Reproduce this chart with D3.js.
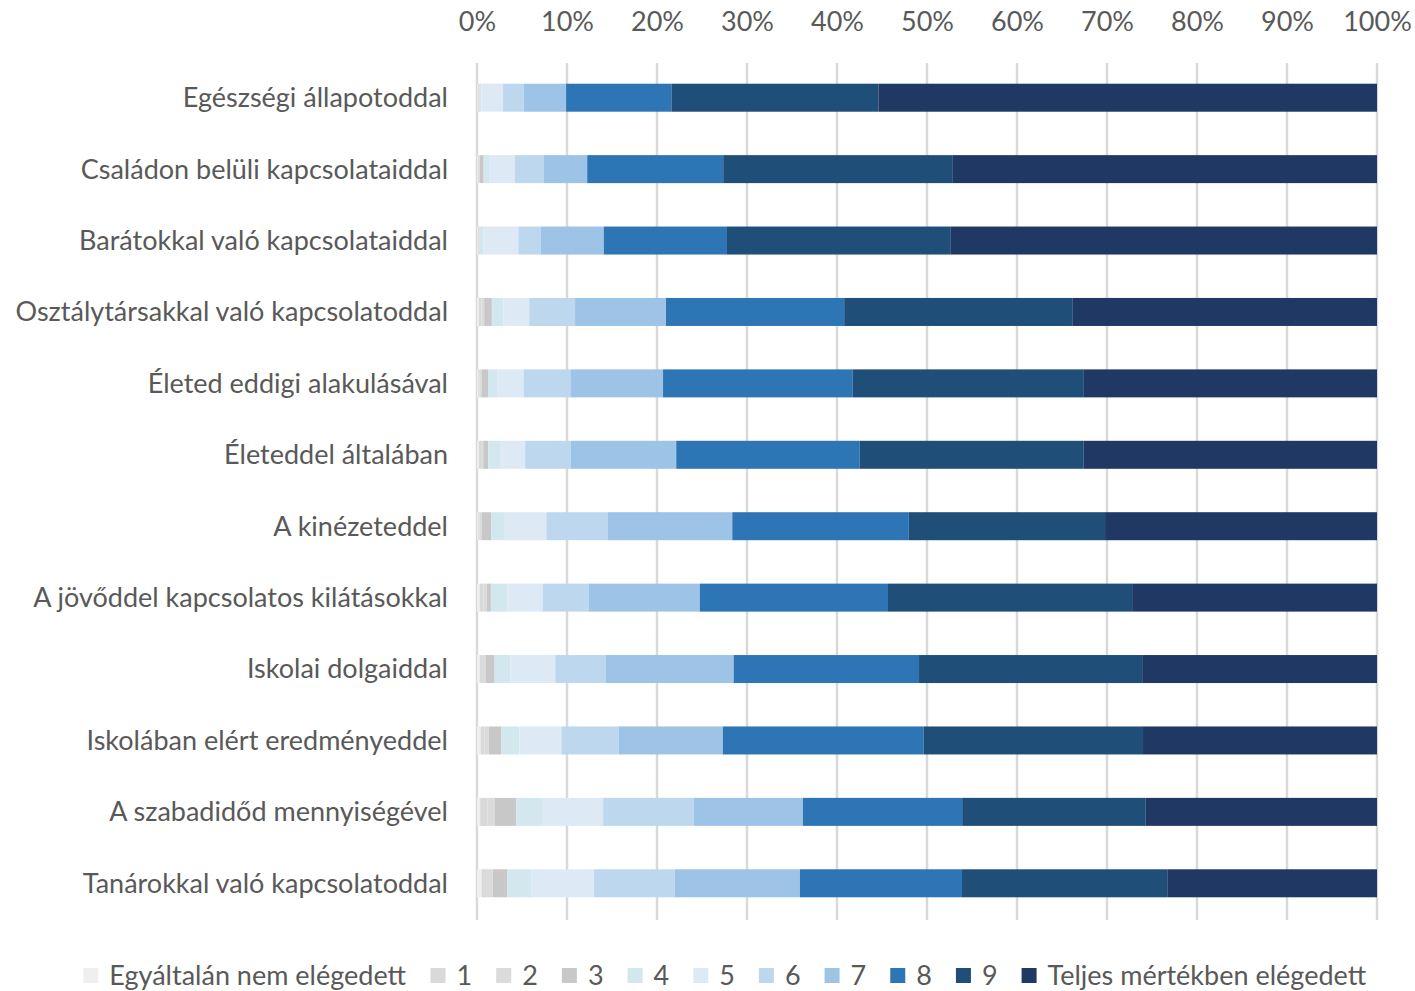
<!DOCTYPE html>
<html>
<head>
<meta charset="utf-8">
<script src="https://cdn.jsdelivr.net/npm/d3@7"></script>
<style>
  body { margin: 0; background: #fff; }
  text { font-family: Lato, "Liberation Sans", sans-serif; fill: #595959; }
</style>
</head>
<body>
<svg id="chart" width="1415" height="991"></svg>
<script>
// row labels, top to bottom
const categories = [
  "Egészségi állapotoddal",
  "Családon belüli kapcsolataiddal",
  "Barátokkal való kapcsolataiddal",
  "Osztálytársakkal való kapcsolatoddal",
  "Életed eddigi alakulásával",
  "Életeddel általában",
  "A kinézeteddel",
  "A jövőddel kapcsolatos kilátásokkal",
  "Iskolai dolgaiddal",
  "Iskolában elért eredményeddel",
  "A szabadidőd mennyiségével",
  "Tanárokkal való kapcsolatoddal"
];

const seriesNames = ["Egyáltalán nem elégedett", "1", "2", "3", "4", "5", "6", "7", "8", "9", "Teljes mértékben elégedett"];

// percentages per answer, one array per series (same order as categories)
const s0  = [0.1, 0.1, 0.1, 0.2, 0.15, 0.2, 0.15, 0.3, 0.3, 0.4, 0.35, 0.5];
const s1  = [0.1, 0.1, 0.1, 0.3, 0.15, 0.25, 0.15, 0.4, 0.35, 0.45, 0.8, 0.6];
const s2  = [0.1, 0.1, 0.1, 0.3, 0.2, 0.25, 0.2, 0.4, 0.35, 0.45, 0.8, 0.65];
const s3  = [0.0, 0.44, 0.0, 0.85, 0.73, 0.55, 1.1, 0.44, 0.96, 1.41, 2.41, 1.63];
const s4  = [0.2, 0.6, 0.4, 1.3, 1.0, 1.3, 1.4, 1.85, 1.74, 2.0, 2.96, 2.7];
const s5  = [2.4, 2.85, 3.9, 2.85, 2.96, 2.8, 4.7, 3.9, 5.0, 4.67, 6.7, 6.9];
const s6  = [2.3, 3.2, 2.5, 5.1, 5.2, 5.1, 6.85, 5.15, 5.63, 6.37, 10.1, 9.0];
const s7  = [4.7, 4.85, 7.0, 10.1, 10.3, 11.7, 13.8, 12.3, 14.2, 11.56, 12.1, 13.9];
const s8  = [11.7, 15.1, 13.7, 19.8, 21.1, 20.4, 19.6, 20.9, 20.6, 22.3, 17.7, 18.0];
const s9  = [23.0, 25.5, 24.9, 25.4, 25.7, 24.9, 21.8, 27.2, 24.8, 24.4, 20.4, 22.8];
const s10 = [55.4, 47.1, 47.4, 33.8, 32.6, 32.6, 30.2, 27.1, 26.1, 26.0, 25.7, 23.3];

const seriesValues = [s0, s1, s2, s3, s4, s5, s6, s7, s8, s9, s10];
const colors = ["#efefef", "#d9d9d9", "#dbdbdb", "#c8c8c8", "#d3e7ee", "#ddeaf6", "#bdd7ee", "#9dc3e6", "#2e75b6", "#1f4e79", "#203864"];
const tickValues = [0, 0.1, 0.2, 0.3, 0.4, 0.5, 0.6, 0.7, 0.8, 0.9, 1];

const svg = d3.select("#chart");

// build table, normalise each row to 100%
const table = categories.map(function(c, i) {
  const row = { cat: c };
  let total = 0;
  seriesNames.forEach(function(s, j) { total += seriesValues[j][i]; });
  seriesNames.forEach(function(s, j) { row[s] = seriesValues[j][i] / total; });
  return row;
});

const stack = d3.stack().keys(seriesNames)(table);

const x = d3.scaleLinear().domain([0, 1]).range([477, 1377]);
const y = d3.scaleBand().domain(categories).range([62, 919]).paddingInner(0.608).paddingOuter(0.304);

// gridlines
svg.append("g")
  .selectAll("line")
  .data(tickValues)
  .join("line")
  .attr("x1", d => x(d)).attr("x2", d => x(d))
  .attr("y1", 63).attr("y2", 920)
  .attr("stroke", "#d9d9d9")
  .attr("stroke-width", 2.5);

// top axis labels
const xAxis = svg.append("g")
  .attr("transform", "translate(0,31)")
  .call(d3.axisTop(x).tickValues(tickValues).tickFormat(d3.format(".0%")).tickSize(0).tickPadding(0));
xAxis.select(".domain").remove();
xAxis.selectAll("text")
  .style("font-size", "27px")
  .style("font-family", "Lato, 'Liberation Sans', sans-serif")
  .attr("fill", "#595959");

// bars
svg.append("g")
  .selectAll("g")
  .data(stack)
  .join("g")
  .attr("fill", (d, i) => colors[i])
  .selectAll("rect")
  .data(d => d)
  .join("rect")
  .attr("x", d => x(d[0]))
  .attr("width", d => x(d[1]) - x(d[0]))
  .attr("y", d => y(d.data.cat))
  .attr("height", y.bandwidth());

// row labels
svg.append("g")
  .selectAll("text")
  .data(categories)
  .join("text")
  .attr("x", 448)
  .attr("y", d => y(d) + y.bandwidth() / 2)
  .attr("dy", "0.35em")
  .attr("text-anchor", "end")
  .style("font-size", "27px")
  .text(d => d);

// legend
const legend = svg.append("g");
const items = legend.selectAll("g")
  .data(seriesNames)
  .join("g");
items.append("rect")
  .attr("width", 15).attr("height", 15)
  .attr("fill", (d, i) => colors[i]);
items.append("text")
  .attr("x", 26)
  .attr("y", 7.5)
  .attr("dy", "0.35em")
  .style("font-size", "27px")
  .text(d => d);

const gap = 24;
let lx = 0;
items.each(function() {
  const w = this.getBBox().width;
  d3.select(this).attr("transform", "translate(" + lx + ",0)");
  lx += w + gap;
});
const legendW = lx - gap;
legend.attr("transform", "translate(" + (725 - legendW / 2) + ",968)");
</script>
</body>
</html>
